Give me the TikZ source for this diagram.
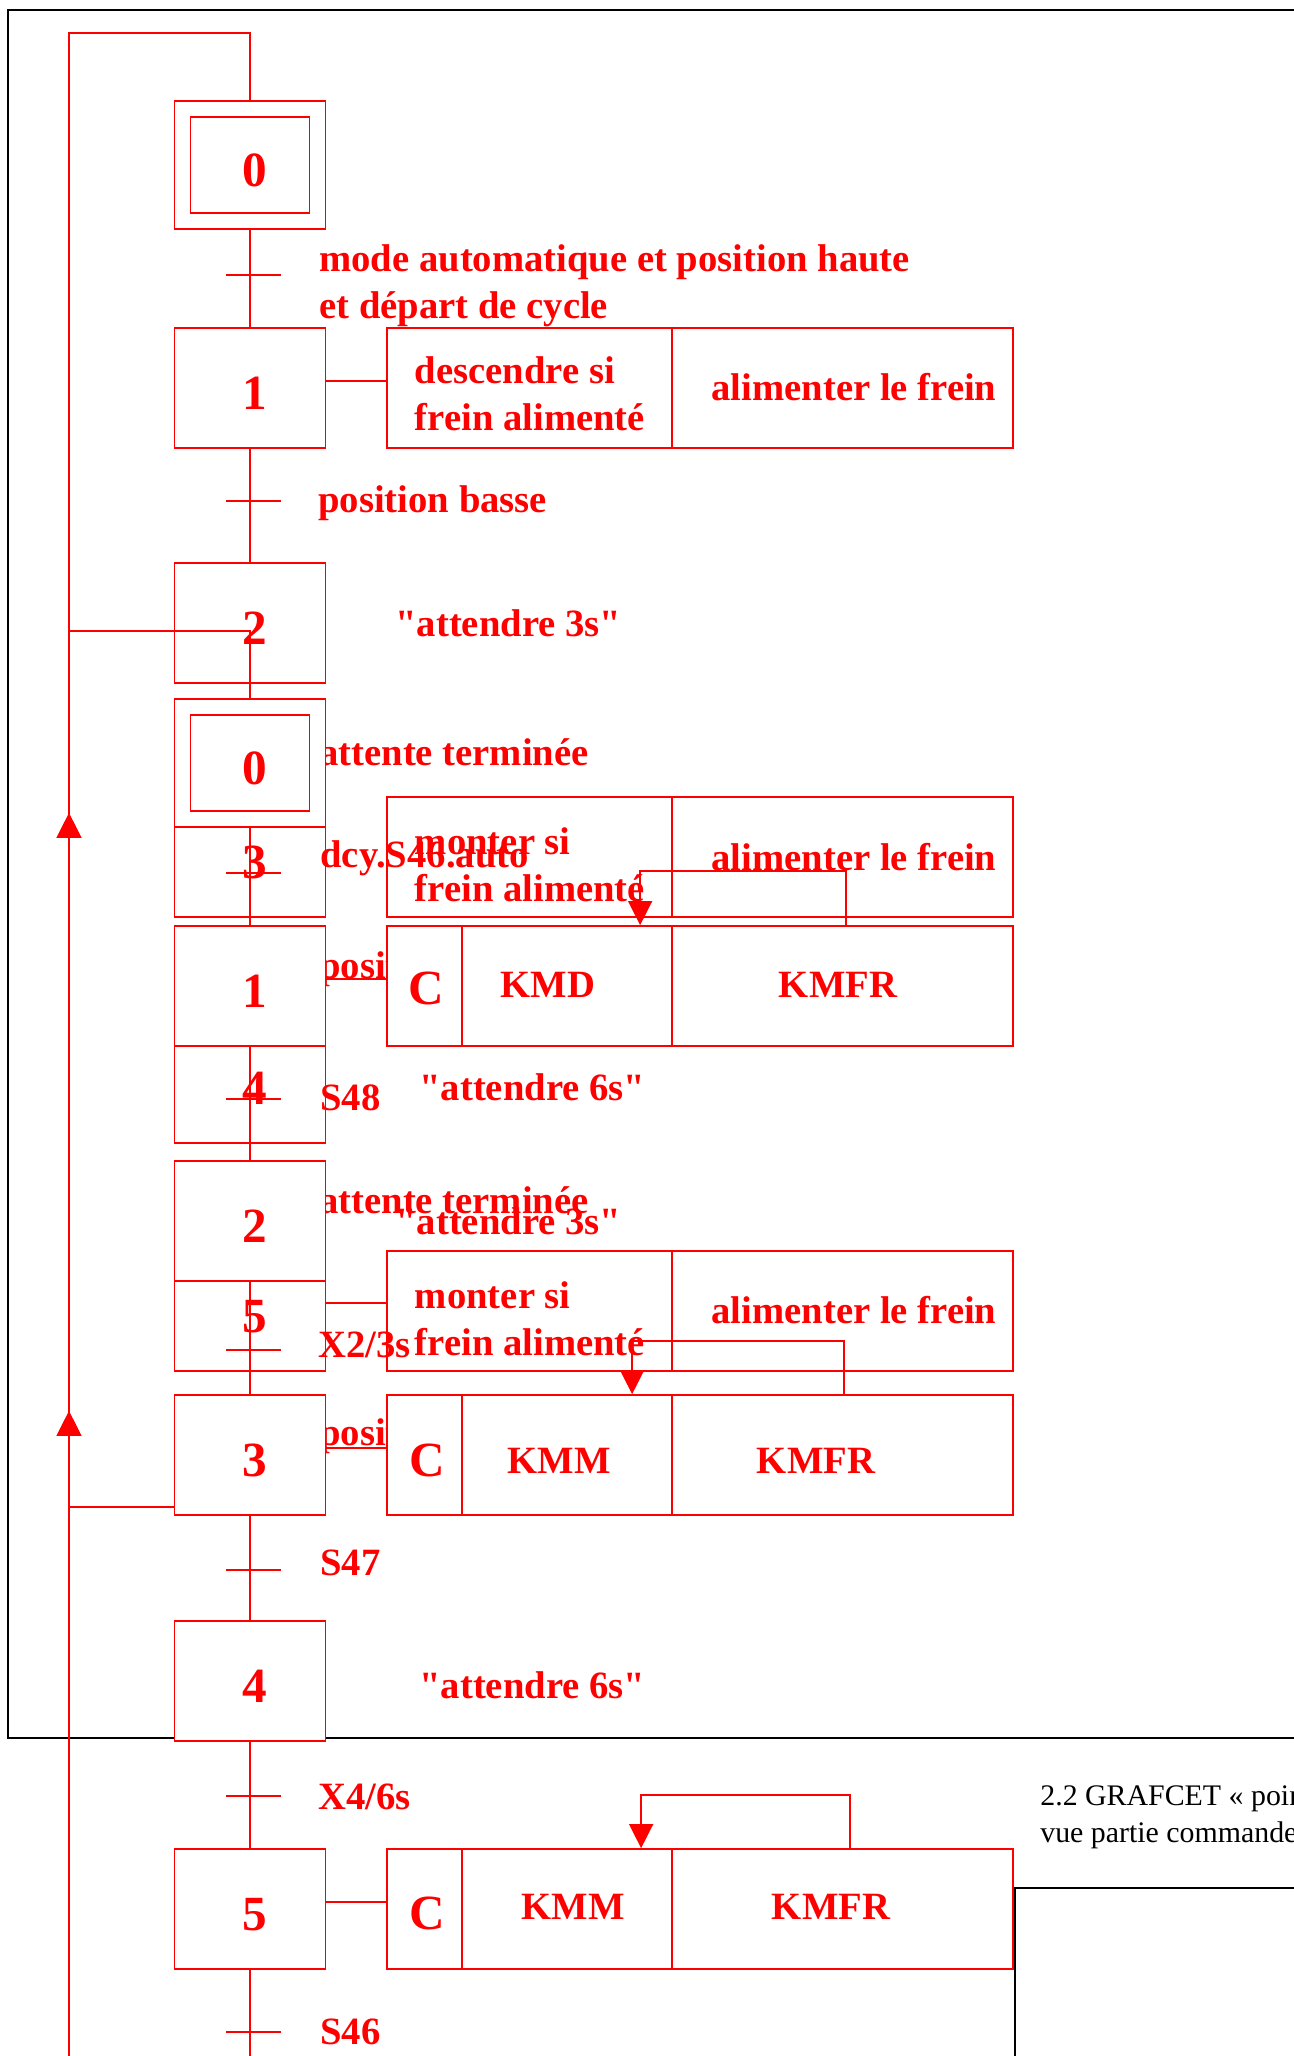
\documentclass[tikz,border=0pt]{standalone}
\usepackage{fontspec}
\setmainfont{Liberation Serif}
\newfontfamily\graffont{Liberation Serif}
\usetikzlibrary{arrows.meta,decorations.markings}
\definecolor{grafred}{HTML}{FF0000}

\begin{document}
\begin{tikzpicture}[
    x=0.02cm, y=-0.02cm,
    stepbox/.style={
        draw=grafred, line width=1pt, fill=white, inner sep=0pt,
        minimum width=3.02cm, minimum height=2.4cm,
        font=\graffont\bfseries\fontsize{28}{32}\selectfont, text=grafred,
        text height=0.87cm, text depth=0pt,
        execute at begin node={\hspace*{0.2cm}},
    },
    actbox/.style={
        draw=grafred, line width=1pt, fill=white, inner sep=0pt,
        minimum width=12.52cm, minimum height=2.4cm,
    },
    txt/.style={font=\graffont\bfseries\fontsize{22}{27}\selectfont, text=grafred, inner sep=0pt, align=left},
    big/.style={font=\graffont\bfseries\fontsize{28}{32}\selectfont, text=grafred, inner sep=0pt},
    link/.style={draw=grafred, line width=0.8pt},
    fb/.style={link, -{Triangle[length=0.48cm, width=0.48cm]}},
    loopline/.style={link, postaction={decorate}, decoration={markings,
        mark=at position 20.21cm with {\arrow{Triangle[length=0.5cm, width=0.5cm]}}}},
    pageframe/.style={draw=black, line width=1pt},
    caption/.style={font=\fontsize{17}{20}\selectfont, anchor=base west, inner sep=0pt},
]
\useasboundingbox (0,0) rectangle (1294,2056);

% ── Page frames ──
\draw[pageframe] (8,10) rectangle (1400,1738);
\draw[pageframe] (1400,1888) -| (1015,2100);

% ── Caption ──
\node[caption] (cap1) at (1040,1805) {2.2 GRAFCET « point de};
\node[caption] (cap2) at (1040,1842) {vue partie commande »};

% ════ GRAFCET point de vue système ════
% Step 0
\node[stepbox, minimum height=2.56cm] (s0a) at (250,165) {};
\node[stepbox, minimum width=2.38cm, minimum height=1.92cm] (s0ai) at (s0a) {0};
\coordinate (t0a) at (250,275);
\node[txt, anchor=west] (c0a) at (319,286) {mode automatique et position haute\\et départ de cycle};

% Step 1
\node[stepbox] (s1a) at (250,388) {1};
\node[actbox] (act1a) at (700,388) {};
\draw[link] ([xshift=5.72cm]act1a.north west) -- ([xshift=5.72cm]act1a.south west);
\node[txt] (a1al) at (530,394) {descendre si\\frein alimenté};
\node[txt] (a1ar) at (854,387) {alimenter le frein};
\draw[link] ([yshift=0.14cm]s1a.east) -- ([yshift=0.14cm]act1a.west);
\coordinate (t1a) at (250,501);
\node[txt, anchor=west] (c1a) at (318,503) {position basse};

% Step 2
\node[stepbox] (s2a) at (250,623) {2};
\node[txt, anchor=west] (a2a) at (395,623) {"attendre 3s"};
\coordinate (t2a) at (250,750);
\node[txt, anchor=west] (c2a) at (319,752) {attente terminée};

% Step 3
\node[stepbox] (s3a) at (250,857) {3};
\node[actbox] (act3a) at (700,857) {};
\draw[link] ([xshift=5.72cm]act3a.north west) -- ([xshift=5.72cm]act3a.south west);
\node[txt] (a3al) at (530,865) {monter si\\frein alimenté};
\node[txt] (a3ar) at (854,857) {alimenter le frein};
\coordinate (t3a) at (250,972);
\node[txt, anchor=west] (c3a) at (319,969) {position intermédiaire};

% Step 4
\node[stepbox] (s4a) at (250,1083) {4};
\node[txt, anchor=west] (a4a) at (419,1087) {"attendre 6s"};
\coordinate (t4a) at (250,1198);
\node[txt, anchor=west] (c4a) at (319,1200) {attente terminée};

% Step 5
\node[stepbox] (s5a) at (250,1311) {5};
\node[actbox] (act5a) at (700,1311) {};
\draw[link] ([xshift=5.72cm]act5a.north west) -- ([xshift=5.72cm]act5a.south west);
\node[txt] (a5al) at (530,1319) {monter si\\frein alimenté};
\node[txt] (a5ar) at (854,1310) {alimenter le frein};
\draw[link] ([yshift=0.16cm]s5a.east) -- ([yshift=0.16cm]act5a.west);
\coordinate (t5a) at (250,1434);
\node[txt, anchor=west] (c5a) at (319,1436) {position haute};

% ── Links and transitions ──
\draw[link] (s0a.south) -- (s1a.north);
\draw[link] (s1a.south) -- (s2a.north);
\draw[link] (s2a.south) -- (s3a.north);
\draw[link] (s3a.south) -- (s4a.north);
\draw[link] (s4a.south) -- (s5a.north);
\draw[link] ([xshift=-0.48cm]t0a) -- ([xshift=0.62cm]t0a);
\draw[link] ([xshift=-0.48cm]t1a) -- ([xshift=0.62cm]t1a);
\draw[link] ([xshift=-0.48cm]t2a) -- ([xshift=0.62cm]t2a);
\draw[link] ([xshift=-0.48cm]t3a) -- ([xshift=0.62cm]t3a);
\draw[link] ([xshift=-0.48cm]t4a) -- ([xshift=0.62cm]t4a);
\draw[link] ([xshift=-0.48cm]t5a) -- ([xshift=0.62cm]t5a);

% ── Return loop ──
\coordinate (loopa) at (69,1507);
\coordinate (topa) at (69,33);
\draw[loopline] (s5a.south) |- (loopa) -- (topa) -| (s0a.north);

% ════ GRAFCET point de vue partie commande ════
% Step 0
\node[stepbox, minimum height=2.56cm] (s0b) at (250,763) {};
\node[stepbox, minimum width=2.38cm, minimum height=1.92cm] (s0bi) at (s0b) {0};
\coordinate (t0b) at (250,873);
\node[txt, anchor=west] (c0b) at (320,858) {dcy.S46.auto};

% Step 1
\node[stepbox] (s1b) at (250,986) {1};
\node[actbox] (act1b) at (700,986) {};
\draw[link] ([xshift=1.52cm]act1b.north west) -- ([xshift=1.52cm]act1b.south west);
\draw[link] ([xshift=5.72cm]act1b.north west) -- ([xshift=5.72cm]act1b.south west);
\node[big] (a1bc) at (426,988) {C};
\node[txt] (a1bm) at (548,985) {KMD};
\node[txt] (a1bf) at (838,985) {KMFR};
\draw[link] ([yshift=0.14cm]s1b.east) -- ([yshift=0.14cm]act1b.west);
\draw[fb] ([xshift=9.2cm]act1b.north west) -- ++(0,-54) -| ([xshift=5.08cm]act1b.north west);
\coordinate (t1b) at (250,1099);
\node[txt, anchor=west] (c1b) at (320,1098) {S48};

% Step 2
\node[stepbox] (s2b) at (250,1221) {2};
\node[txt, anchor=west] (a2b) at (395,1221) {"attendre 3s"};
\coordinate (t2b) at (250,1350);
\node[txt, anchor=west] (c2b) at (318,1345) {X2/3s};

% Step 3
\node[stepbox] (s3b) at (250,1455) {3};
\node[actbox] (act3b) at (700,1455) {};
\draw[link] ([xshift=1.52cm]act3b.north west) -- ([xshift=1.52cm]act3b.south west);
\draw[link] ([xshift=5.72cm]act3b.north west) -- ([xshift=5.72cm]act3b.south west);
\node[big] (a3bc) at (427,1460) {C};
\node[txt] (a3bm) at (559,1461) {KMM};
\node[txt] (a3bf) at (816,1461) {KMFR};
\draw[link] ([yshift=0.14cm]s3b.east) -- ([yshift=0.14cm]act3b.west);
\draw[fb] ([xshift=9.16cm]act3b.north west) -- ++(0,-53) -| ([xshift=4.92cm]act3b.north west);
\coordinate (t3b) at (250,1570);
\node[txt, anchor=west] (c3b) at (320,1563) {S47};

% Step 4
\node[stepbox] (s4b) at (250,1681) {4};
\node[txt, anchor=west] (a4b) at (419,1685) {"attendre 6s"};
\coordinate (t4b) at (250,1796);
\node[txt, anchor=west] (c4b) at (318,1797) {X4/6s};

% Step 5
\node[stepbox] (s5b) at (250,1909) {5};
\node[actbox] (act5b) at (700,1909) {};
\draw[link] ([xshift=1.52cm]act5b.north west) -- ([xshift=1.52cm]act5b.south west);
\draw[link] ([xshift=5.72cm]act5b.north west) -- ([xshift=5.72cm]act5b.south west);
\node[big] (a5bc) at (427,1913) {C};
\node[txt] (a5bm) at (573,1907) {KMM};
\node[txt] (a5bf) at (831,1907) {KMFR};
\draw[link] ([yshift=0.14cm]s5b.east) -- ([yshift=0.14cm]act5b.west);
\draw[fb] ([xshift=9.28cm]act5b.north west) -- ++(0,-53) -| ([xshift=5.1cm]act5b.north west);
\coordinate (t5b) at (250,2032);
\node[txt, anchor=west] (c5b) at (320,2032) {S46};

% ── Links and transitions ──
\draw[link] (s0b.south) -- (s1b.north);
\draw[link] (s1b.south) -- (s2b.north);
\draw[link] (s2b.south) -- (s3b.north);
\draw[link] (s3b.south) -- (s4b.north);
\draw[link] (s4b.south) -- (s5b.north);
\draw[link] ([xshift=-0.48cm]t0b) -- ([xshift=0.62cm]t0b);
\draw[link] ([xshift=-0.48cm]t1b) -- ([xshift=0.62cm]t1b);
\draw[link] ([xshift=-0.48cm]t2b) -- ([xshift=0.62cm]t2b);
\draw[link] ([xshift=-0.48cm]t3b) -- ([xshift=0.62cm]t3b);
\draw[link] ([xshift=-0.48cm]t4b) -- ([xshift=0.62cm]t4b);
\draw[link] ([xshift=-0.48cm]t5b) -- ([xshift=0.62cm]t5b);

% ── Return loop ──
\coordinate (loopb) at (69,2105);
\coordinate (topb) at (69,631);
\draw[loopline] (s5b.south) |- (loopb) -- (topb) -| (s0b.north);

\end{tikzpicture}
\end{document}
